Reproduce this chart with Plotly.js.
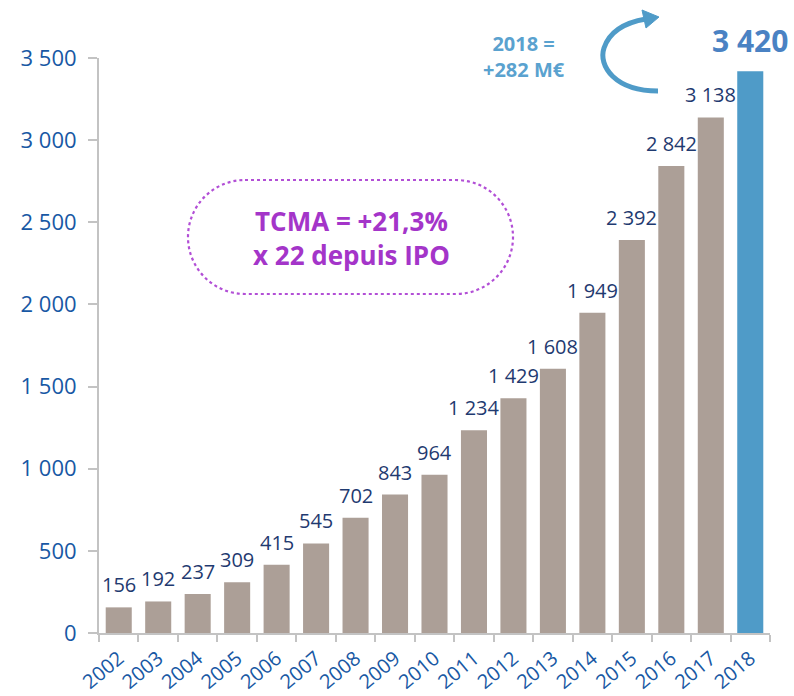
<!DOCTYPE html>
<html><head><meta charset="utf-8">
<script src="https://cdn.plot.ly/plotly-3.0.1.min.js"></script>
<style>html,body{margin:0;padding:0;background:#fff}#chart{width:794px;height:696px}</style>
</head><body><div id="chart"></div>
<script>
const years = ["2002","2003","2004","2005","2006","2007","2008","2009","2010","2011","2012","2013","2014","2015","2016","2017","2018"];
const values = [156,192,237,309,415,545,702,843,964,1234,1429,1608,1949,2392,2842,3138,3420];
const yTicks = [0,500,1000,1500,2000,2500,3000,3500];
const boxLines = ["TCMA = +21,3%","x 22 depuis IPO"];
const deltaLines = ["2018 =","+282 M€"];

const W=794,H=696, L=99, R=24, T=58, B=63;
const pw=W-L-R, ph=H-T-B;
const px=x=>(x-L)/pw, py=y=>(H-B-y)/ph;
const fmt=v=>String(v).replace(/\B(?=(\d{3})+(?!\d))/g,' ');

const colors = years.map((y,i)=> i===years.length-1 ? '#4f9bc8' : '#ac9f97');
const font = '"Open Sans", "Noto Sans", sans-serif';

const annotations = years.map((y,i)=>{
  const last = i===years.length-1;
  return {x:i, y:values[i], xref:'x', yref:'y', text:fmt(values[i]), showarrow:false,
    xanchor:'center', yanchor:'bottom', yshift: last?8:7,
    font:{family:font, size: last?30:20, color: last?'#4a82c3':'#1f3a70', weight: last?'bold':'normal'}};
});
annotations.push({xref:'paper',yref:'paper',x:px(351),y:py(238),xanchor:'center',yanchor:'middle',text:boxLines.join('<br>'),showarrow:false,
  font:{family:font,size:26,color:'#a435c9',weight:'bold'},align:'center'});
annotations.push({xref:'paper',yref:'paper',x:px(524),y:py(56),xanchor:'center',yanchor:'middle',text:deltaLines.join('<br>'),showarrow:false,
  font:{family:font,size:20,color:'#5aa2cf',weight:'bold'},align:'center'});

function pill(x0,y0,x1,y1){
  const r=(y1-y0)/2, k=0.5523*r, cy=(y0+y1)/2;
  const P=(x,y)=>px(x)+','+py(y);
  return 'M'+P(x0+r,y0)+' L'+P(x1-r,y0)+
    ' C'+P(x1-r+k,y0)+' '+P(x1,cy-k)+' '+P(x1,cy)+
    ' C'+P(x1,cy+k)+' '+P(x1-r+k,y1)+' '+P(x1-r,y1)+
    ' L'+P(x0+r,y1)+
    ' C'+P(x0+r-k,y1)+' '+P(x0,cy+k)+' '+P(x0,cy)+
    ' C'+P(x0,cy-k)+' '+P(x0+r-k,y0)+' '+P(x0+r,y0)+' Z';
}
const P=(x,y)=>px(x)+','+py(y);
const arcPath='M'+P(658,91)+' C'+P(615,91)+' '+P(598,66)+' '+P(604,48)+' C'+P(610,30)+' '+P(628,22)+' '+P(646,19);
const headPath='M'+P(642,10)+' L'+P(659,17)+' L'+P(646,28)+' Z';

const shapes=[
  {type:'path',xref:'paper',yref:'paper',path:pill(188,180,513,294),line:{color:'#b24fd6',width:2.2,dash:'dot'},fillcolor:'rgba(0,0,0,0)'},
  {type:'path',xref:'paper',yref:'paper',path:arcPath,line:{color:'#4f9bc8',width:5},fillcolor:'rgba(0,0,0,0)'},
  {type:'path',xref:'paper',yref:'paper',path:headPath,line:{color:'#4f9bc8',width:1},fillcolor:'#4f9bc8'}
];

Plotly.newPlot('chart',[{type:'bar',x:years,y:values,marker:{color:colors},hoverinfo:'none'}],{
  width:W,height:H,margin:{l:L,r:R,t:T,b:B},paper_bgcolor:'#fff',plot_bgcolor:'#fff',
  separators:', ',bargap:0.34,showlegend:false,
  font:{family:font},
  xaxis:{type:'category',range:[-0.5,years.length-0.5],showline:true,linecolor:'#c3c3c3',linewidth:2,ticks:'outside',tickson:'boundaries',
    ticklen:7,tickcolor:'#c3c3c3',tickwidth:2,tickangle:-40,ticklabelstandoff:4,tickfont:{family:font,size:20,color:'#1858a4'},showgrid:false,zeroline:false},
  yaxis:{range:[0,3500],tickvals:yTicks,ticktext:yTicks.map(fmt),showline:true,linecolor:'#c3c3c3',linewidth:2,ticks:'outside',
    ticklen:9,tickcolor:'#c3c3c3',tickwidth:2,ticklabelstandoff:7,tickfont:{family:font,size:22,color:'#1858a4'},showgrid:false,zeroline:false},
  annotations,shapes
},{staticPlot:true});
</script></body></html>
